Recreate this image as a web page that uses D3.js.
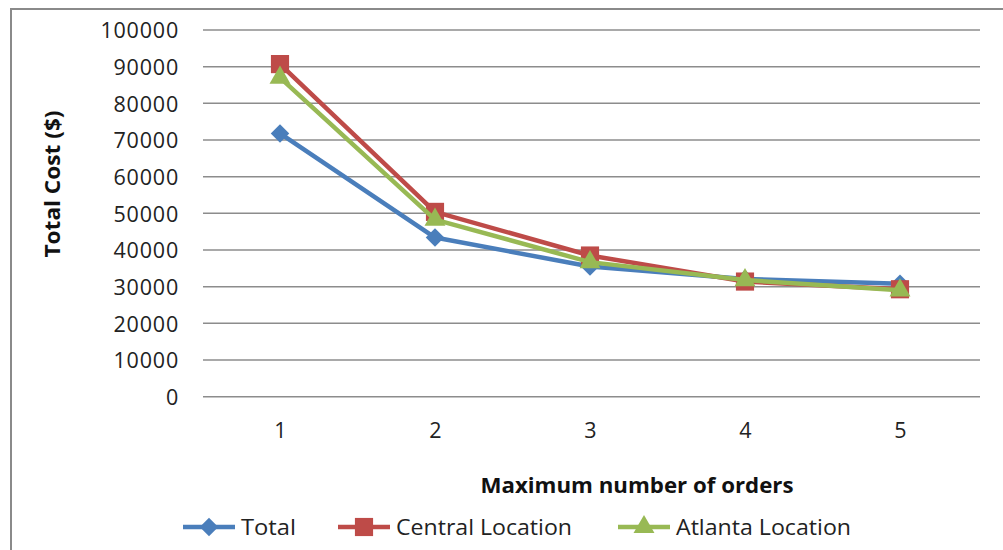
<!DOCTYPE html>
<html><head><meta charset="utf-8">
<script src="https://cdn.jsdelivr.net/npm/d3@7"></script>
<style>body{margin:0;background:#fff}svg{display:block}</style>
</head><body>
<svg id="c" width="1003" height="550"></svg>
<script>
const categories = [1, 2, 3, 4, 5];
const totalValues = [71800, 43400, 35500, 32100, 30800];
const centralValues = [90700, 50400, 38500, 31400, 29300];
const atlantaValues = [87000, 48300, 36700, 31800, 29000];
const yTicks = [0, 10000, 20000, 30000, 40000, 50000, 60000, 70000, 80000, 90000, 100000];
const seriesNames = ["Total", "Central Location", "Atlanta Location"];
const seriesColors = ["#4a7ebb", "#be4b48", "#98b954"];

const diamond = {draw(ctx, size) { const r = Math.sqrt(size / 2); ctx.moveTo(0, -r); ctx.lineTo(r, 0); ctx.lineTo(0, r); ctx.lineTo(-r, 0); ctx.closePath(); }};

const series = [
  {name: seriesNames[0], values: totalValues, color: seriesColors[0], marker: diamond, size: 170},
  {name: seriesNames[1], values: centralValues, color: seriesColors[1], marker: d3.symbolSquare, size: 330},
  {name: seriesNames[2], values: atlantaValues, color: seriesColors[2], marker: d3.symbolTriangle, size: 190}
];

const svg = d3.select("#c");
const font = "'Open Sans', sans-serif";

svg.append("rect").attr("x", 11).attr("y", 9).attr("width", 1010).attr("height", 560)
  .attr("fill", "#fff").attr("stroke", "#8a8a8a").attr("stroke-width", 2);

const x = d3.scalePoint().domain(categories).range([280, 900]);
const y = d3.scaleLinear().domain([0, 100000]).range([396.7, 30]);
const gridLeft = 203, gridRight = 980;

svg.append("g").selectAll("line").data(yTicks).join("line")
  .attr("x1", gridLeft).attr("x2", gridRight)
  .attr("y1", d => y(d)).attr("y2", d => y(d))
  .attr("stroke", "#8c8c8c").attr("stroke-width", 1.5);

const yAxis = d3.axisLeft(y).tickValues(yTicks).tickSize(0).tickPadding(0).tickFormat(d3.format("d"));
const gy = svg.append("g").attr("transform", "translate(179,0)").call(yAxis);
gy.select(".domain").remove();
gy.selectAll("text").attr("font-family", font).attr("font-size", 21.5).attr("fill", "#222")
  .attr("letter-spacing", 0.8).attr("dy", "0.36em");

const xAxis = d3.axisBottom(x).tickSize(0).tickPadding(0);
const gx = svg.append("g").attr("transform", "translate(0,432)").call(xAxis);
gx.select(".domain").remove();
gx.selectAll("text").attr("font-family", font).attr("font-size", 21.5).attr("fill", "#222").attr("dy", "0.3em");

svg.append("text").attr("x", 637).attr("y", 493).attr("text-anchor", "middle")
  .attr("font-family", font).attr("font-size", 22).attr("font-weight", "bold").attr("fill", "#111")
  .attr("textLength", 313).attr("lengthAdjust", "spacingAndGlyphs")
  .text("Maximum number of orders");
svg.append("text").attr("transform", "translate(60,184) rotate(-90)").attr("text-anchor", "middle")
  .attr("font-family", font).attr("font-size", 21).attr("font-weight", "bold").attr("fill", "#111")
  .attr("textLength", 147).attr("lengthAdjust", "spacingAndGlyphs")
  .text("Total Cost ($)");

const line = d3.line().x((d, i) => x(categories[i])).y(d => y(d));
series.forEach(s => {
  const g = svg.append("g");
  g.append("path").attr("d", line(s.values)).attr("fill", "none")
    .attr("stroke", s.color).attr("stroke-width", 4.5).attr("stroke-linejoin", "round");
  g.selectAll("path.m").data(s.values).join("path").attr("class", "m")
    .attr("transform", (d, i) => `translate(${x(categories[i])},${y(d)})`)
    .attr("d", d3.symbol().type(s.marker).size(s.size)).attr("fill", s.color);
});

const legendX = [183, 338, 618];
const legendTextLen = [55, 176, 175];
series.forEach((s, i) => {
  const g = svg.append("g").attr("transform", `translate(${legendX[i]},527)`);
  g.append("line").attr("x1", 0).attr("x2", 52).attr("y1", 0).attr("y2", 0)
    .attr("stroke", s.color).attr("stroke-width", 4.5);
  g.append("path").attr("transform", "translate(26,0)")
    .attr("d", d3.symbol().type(s.marker).size(s.size)).attr("fill", s.color);
  g.append("text").attr("x", 58).attr("y", 0).attr("dy", "0.36em")
    .attr("font-family", font).attr("font-size", 21.5).attr("fill", "#222")
    .attr("textLength", legendTextLen[i]).attr("lengthAdjust", "spacingAndGlyphs").text(s.name);
});
</script>
</body></html>
